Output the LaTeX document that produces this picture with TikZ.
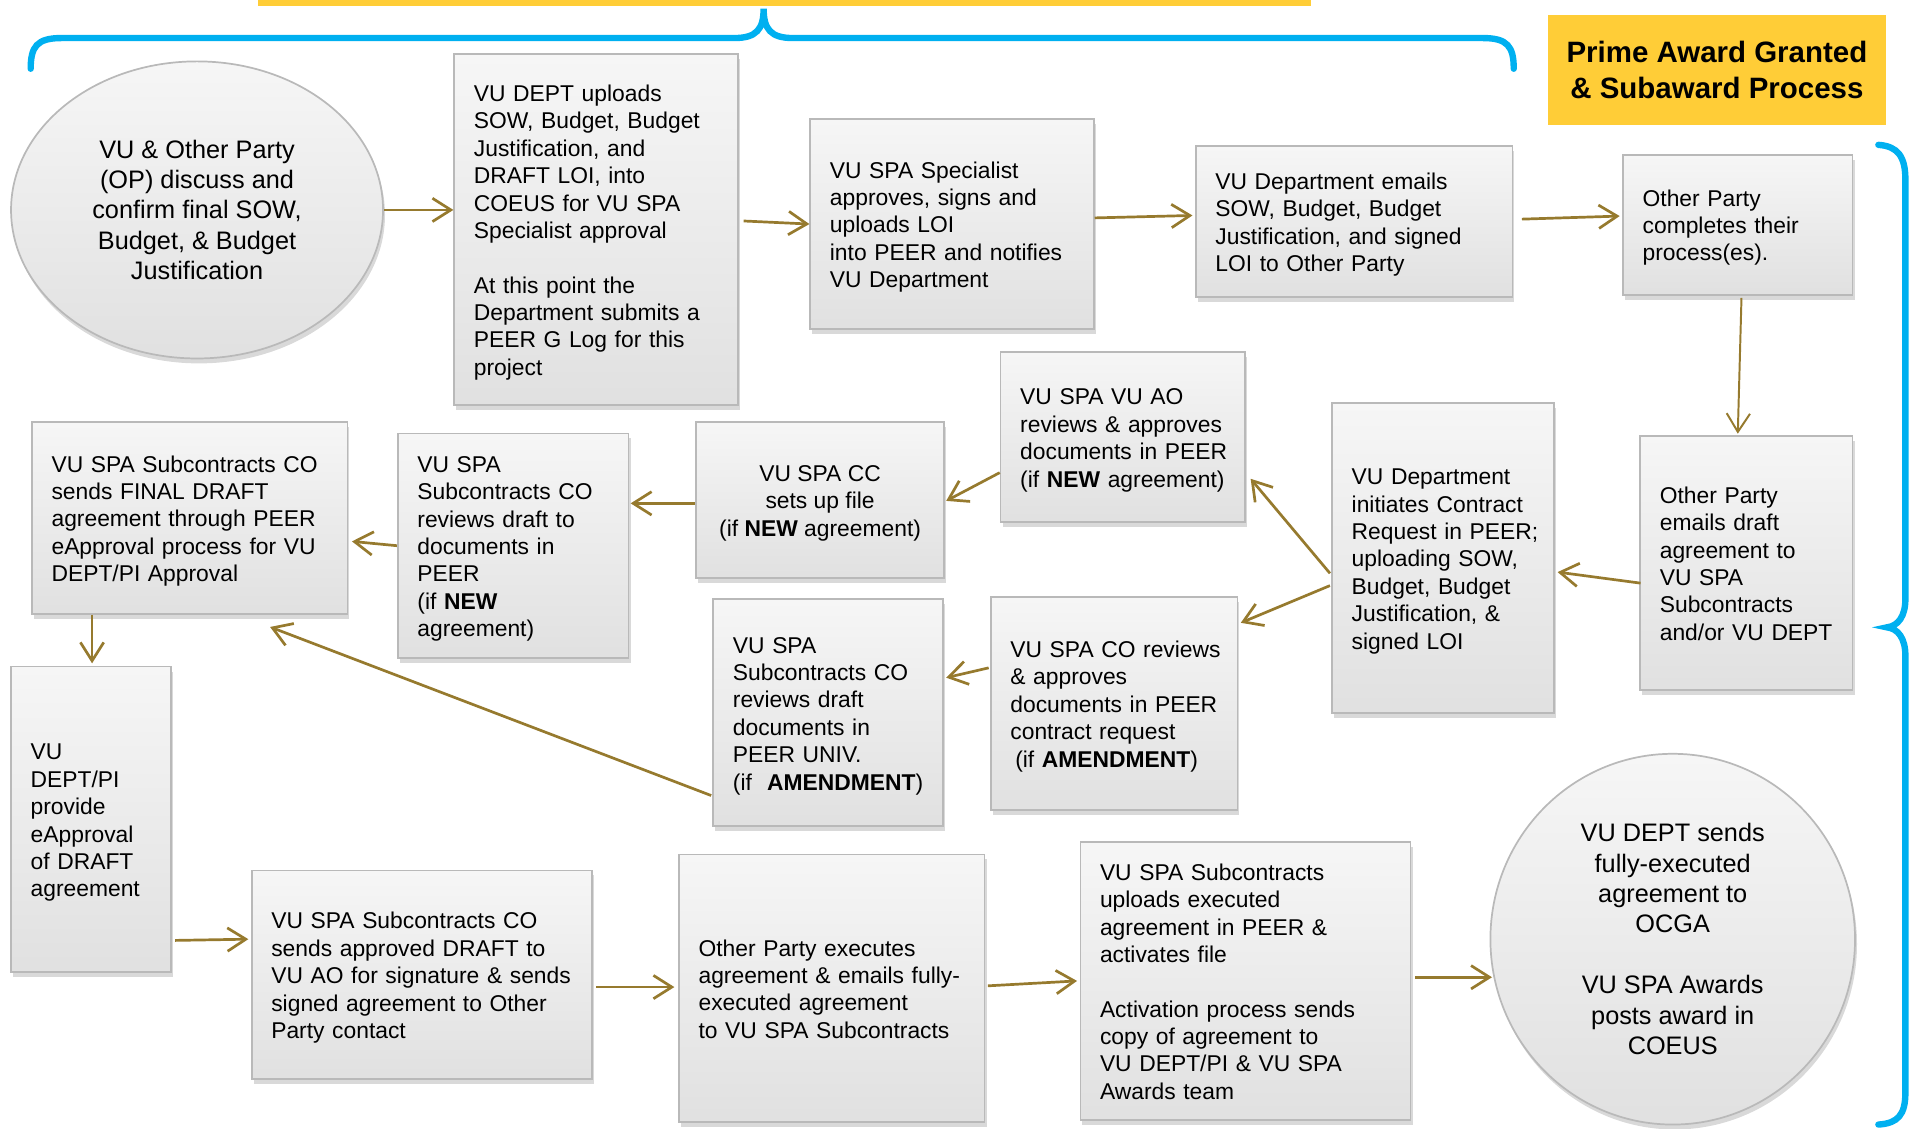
\documentclass[tikz,border=0pt]{standalone}
\usepackage{fontspec}
\setmainfont{Liberation Sans}
\usetikzlibrary{arrows.meta,shapes.geometric,shadows,calc}

\definecolor{flowgold}{RGB}{150,122,46}
\definecolor{bracketblue}{RGB}{0,176,240}
\definecolor{titleyellow}{RGB}{255,205,55}

% one block of lines, no automatic breaks
\newcommand{\steptext}[1]{\raisebox{-1.4pt}[\height][\depth]{\begin{tabular}{@{}l@{}}#1\end{tabular}}}
\newcommand{\steptextc}[1]{\raisebox{-1.2pt}[\height][\depth]{\begin{tabular}{@{}c@{}}#1\end{tabular}}}

\begin{document}
\begin{tikzpicture}[x=0.5pt,y=-0.5pt]
        \tikzstyle{stepbox}=[draw=gray!55, line width=0.7pt, top color=gray!7, bottom color=gray!24,
          drop shadow={shadow xshift=0.8pt, shadow yshift=-2pt, opacity=0.3},
          inner xsep=8pt, inner ysep=0pt, align=left, font=\fontsize{9.3}{11.15}\selectfont]
        \tikzstyle{stepoval}=[stepbox, ellipse, inner sep=0pt, align=center, font=\fontsize{10.3}{12.4}\selectfont]
        \tikzstyle{flow}=[draw=flowgold, line width=1.1pt, -{Straight Barb[length=7.5pt,width=9.5pt]}]
        \tikzstyle{bracket}=[draw=bracketblue, line width=2.6pt, line cap=round]

        \useasboundingbox (0,0) rectangle (1568,919.6);

        % yellow bar and braces
        \fill[titleyellow] (210,0) rectangle (1068,5);
        \draw[bracket] (25,56) .. controls (25,38) and (30,31) .. (50,31) -- (598,31)
          .. controls (616,31) and (622,24) .. (622,7) .. controls (622,24) and (628,31) .. (646,31)
          -- (1208,31) .. controls (1228,31) and (1233,38) .. (1233,56);
        \draw[bracket] (1530,118) .. controls (1546,119) and (1552,128) .. (1552,146) -- (1552,488)
          .. controls (1552,502) and (1546,510) .. (1537,511) .. controls (1546,512) and (1552,520) .. (1552,534)
          -- (1552,890) .. controls (1552,908) and (1546,915) .. (1530,916);

        % title
        \node[fill=titleyellow, minimum width=137.5pt, minimum height=45pt, align=center,
          font=\fontsize{12}{15}\selectfont\bfseries] at (1398.5,57) (title) {Prime Award Granted\\\& Subaward Process};

        % first row
        \node[stepoval, minimum width=151.5pt, minimum height=121pt] at (160.5,171) (discuss)
          {\steptextc{VU \& Other Party\\(OP) discuss and\\confirm final SOW,\\Budget, \& Budget\\Justification}};
        \node[stepbox, minimum width=115.5pt, minimum height=143pt, text width=99.5pt] at (485.5,187) (upload)
          {\steptext{VU DEPT uploads\\SOW, Budget, Budget\\Justification, and\\DRAFT LOI, into\\COEUS for VU SPA\\Specialist approval\\ \\At this point the\\Department submits a\\PEER G Log for this\\project}};
        \node[stepbox, minimum width=115.5pt, minimum height=85.5pt, text width=99.5pt] at (775.5,182.5) (approve)
          {\steptext{VU SPA Specialist\\approves, signs and\\uploads LOI\\into PEER and notifies\\VU Department}};
        \node[stepbox, minimum width=129pt, minimum height=61.5pt, text width=113pt] at (1103,180.5) (emailsow)
          {\steptext{VU Department emails\\SOW, Budget, Budget\\Justification, and signed\\LOI to Other Party}};
        \node[stepbox, minimum width=93.5pt, minimum height=57pt, text width=77.5pt] at (1415.5,183) (opdone)
          {\steptext{Other Party\\completes their\\process(es).}};

        % second row
        \node[stepbox, minimum width=86.5pt, minimum height=103.5pt, text width=70.5pt] at (1422.5,458.5) (opdraft)
          {\steptext{Other Party\\emails draft\\agreement to\\VU SPA\\Subcontracts\\and/or VU DEPT}};
        \node[stepbox, minimum width=90.5pt, minimum height=126.5pt, text width=74.5pt] at (1175.5,454.5) (initiate)
          {\steptext{VU Department\\initiates Contract\\Request in PEER;\\uploading SOW,\\Budget, Budget\\Justification, \&\\signed LOI}};
        \node[stepbox, minimum width=99.5pt, minimum height=69pt, text width=83.5pt] at (914.5,356) (aoreview)
          {\steptext{VU SPA VU AO\\reviews \& approves\\documents in PEER\\(if \textbf{NEW} agreement)}};
        \node[stepbox, minimum width=100.5pt, minimum height=87pt, text width=84.5pt] at (907.5,573) (coreview)
          {\steptext{VU SPA CO reviews\\\& approves\\documents in PEER\\contract request\\\hspace*{2pt}(if \textbf{AMENDMENT})}};
        \node[stepbox, minimum width=101pt, minimum height=63.5pt, align=center] at (668,407.5) (ccsetup)
          {\steptextc{VU SPA CC\\sets up file\\(if \textbf{NEW} agreement)}};
        \node[stepbox, minimum width=93.5pt, minimum height=92.5pt, text width=77.5pt] at (674.5,580.5) (amendreview)
          {\steptext{VU SPA\\Subcontracts CO\\reviews draft\\documents in\\PEER UNIV.\\(if \ \textbf{AMENDMENT})}};
        \node[stepbox, minimum width=94pt, minimum height=91.5pt, text width=78pt] at (418,444.5) (newreview)
          {\steptext{VU SPA\\Subcontracts CO\\reviews draft to\\documents in\\PEER\\(if \textbf{NEW}\\agreement)}};
        \node[stepbox, minimum width=128.5pt, minimum height=78pt, text width=112.5pt] at (154.5,422) (finaldraft)
          {\steptext{VU SPA Subcontracts CO\\sends FINAL DRAFT\\agreement through PEER\\eApproval process for VU\\DEPT/PI Approval}};

        % last row
        \node[stepbox, minimum width=65pt, minimum height=124.5pt, text width=49pt] at (74,667.5) (piapprove)
          {\steptext{VU\\DEPT/PI\\provide\\eApproval\\of DRAFT\\agreement}};
        \node[stepbox, minimum width=138.5pt, minimum height=85pt, text width=122.5pt] at (343.5,794) (sendsigned)
          {\steptext{VU SPA Subcontracts CO\\sends approved DRAFT to\\VU AO for signature \& sends\\signed agreement to Other\\Party contact}};
        \node[stepbox, minimum width=124.5pt, minimum height=109pt, text width=108.5pt] at (677.5,805) (opexecute)
          {\steptext{Other Party executes\\agreement \& emails fully-\\executed agreement\\to VU SPA Subcontracts}};
        \node[stepbox, minimum width=134.5pt, minimum height=113pt, text width=118.5pt] at (1014.5,799) (activate)
          {\steptext{VU SPA Subcontracts\\uploads executed\\agreement in PEER \&\\activates file\\ \\Activation process sends\\copy of agreement to\\VU DEPT/PI \& VU SPA\\Awards team}};
        \node[stepoval, minimum width=148.5pt, minimum height=151pt] at (1362.5,765) (ocga)
          {\steptextc{VU DEPT sends\\fully-executed\\agreement to\\OCGA\\ \\VU SPA Awards\\posts award in\\COEUS}};

        % arrows between the steps
        \draw[flow] (discuss.east) -- ($(upload.west)+(0,-16)$);
        \draw[flow] ($(upload.east)+(4,-7)$) -- (approve.west);
        \draw[flow] ($(approve.east)+(0,-5)$) -- ($(emailsow.west)+(-2,-5)$);
        \draw[flow] ($(emailsow.east)+(7,-2)$) -- ($(opdone.west)+(-2,-7)$);
        \draw[flow, line width=0.8pt] ($(opdone.south)+(3,2)$) -- ($(opdraft.north)+(-7,-1)$);
        \draw[flow] ($(opdraft.west)+(1,16.5)$) -- ($(initiate.east)+(2,11.5)$);
        \draw[flow] ($(initiate.west)+(-1,12.5)$) -- ($(aoreview.east)+(4,34)$);
        \draw[flow] ($(initiate.west)+(-1,22.5)$) -- ($(coreview.north east)+(2,22)$);
        \draw[flow] ($(aoreview.west)+(0,29)$) -- ($(ccsetup.east)+(1,0.5)$);
        \draw[flow] ($(ccsetup.west)+(0,2.5)$) -- ($(newreview.east)+(1,-34.5)$);
        \draw[flow] (newreview.west) -- ($(finaldraft.east)+(3,19)$);
        \draw[flow] ($(coreview.west)+(-1,-29)$) -- ($(amendreview.east)+(2,-28.5)$);
        \draw[flow] ($(amendreview.west)+(-1,67.5)$) -- ($(finaldraft.south)+(65.5,10)$);
        \draw[flow] ($(finaldraft.south)+(-79.5,0)$) -- ($(piapprove.north)+(1,-2)$);
        \draw[flow] ($(piapprove.east)+(3,98.5)$) -- ($(sendsigned.west)+(-2,-29)$);
        \draw[flow] ($(sendsigned.east)+(3,10)$) -- ($(opexecute.west)+(-3,-1)$);
        \draw[flow] ($(opexecute.east)+(2,-2)$) -- ($(activate.west)+(-2,0)$);
        \draw[flow] ($(activate.east)+(3,-3)$) -- ($(ocga.west)+(2,31)$);
\end{tikzpicture}
\end{document}
